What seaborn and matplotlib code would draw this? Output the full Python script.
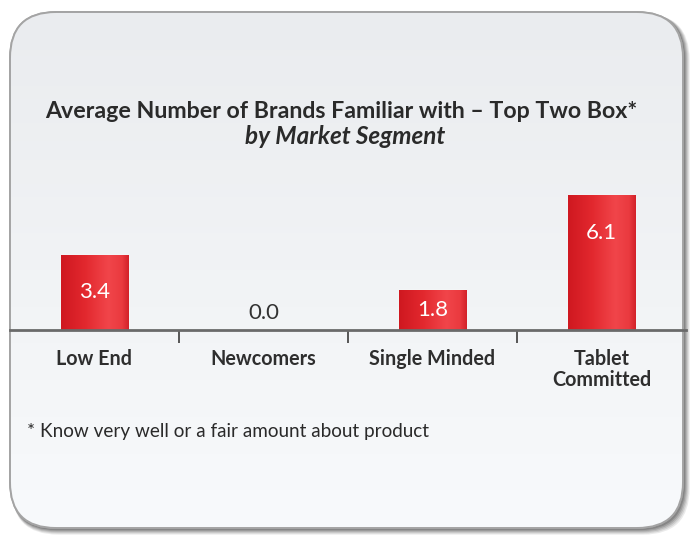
import numpy as np
import pandas as pd
import matplotlib
matplotlib.use("Agg")
import matplotlib.pyplot as plt
from matplotlib.patches import FancyBboxPatch
from matplotlib.colors import LinearSegmentedColormap
import seaborn as sns

# Data
segments = ["Low End", "Newcomers", "Single Minded", "Tablet\nCommitted"]
avg_brands = [3.4, 0.0, 1.8, 6.1]

title_line = "Average Number of Brands Familiar with \u2013 Top Two Box*"
subtitle_line = "by Market Segment"
footnote = "* Know very well or a fair amount about product"

sns.set_theme(style="white")
plt.rcParams["font.family"] = ["Lato", "DejaVu Sans"]

W, H = 690, 539
fig = plt.figure(figsize=(W / 100, H / 100), dpi=100)
fig.patch.set_facecolor("white")

# Background panel in pixel coordinates
bg = fig.add_axes([0, 0, 1, 1])
bg.set_xlim(0, W)
bg.set_ylim(H, 0)
bg.axis("off")

bx0, by0, bx1, by1 = 10, 12, 683, 528
rad = 46

# soft shadow on the right/bottom edge
for i, a in enumerate([0.10, 0.13, 0.16, 0.20, 0.25]):
    off = 6 - i
    sh = FancyBboxPatch((bx0 + off * 0.3, by0 + off * 0.3), bx1 - bx0 + off * 0.8, by1 - by0 + off * 0.8,
                        boxstyle=f"round,pad=0,rounding_size={rad}",
                        facecolor="#3a3a3a", edgecolor="none", alpha=a, zorder=1)
    bg.add_patch(sh)

face = FancyBboxPatch((bx0, by0), bx1 - bx0, by1 - by0,
                      boxstyle=f"round,pad=0,rounding_size={rad}",
                      facecolor="#f0f2f4", edgecolor="#a8a8a8", linewidth=1.2, zorder=2)
bg.add_patch(face)

grad_cmap = LinearSegmentedColormap.from_list("panel", ["#eaecef", "#f1f3f5", "#f8fafc"])
gv = np.linspace(0, 1, 256).reshape(-1, 1)
im = bg.imshow(gv, cmap=grad_cmap, extent=[bx0, bx1, by1, by0], aspect="auto", zorder=3)
im.set_clip_path(face)
edge = FancyBboxPatch((bx0, by0), bx1 - bx0, by1 - by0,
                      boxstyle=f"round,pad=0,rounding_size={rad}",
                      facecolor="none", edgecolor="#a4a4a4", linewidth=1.4, zorder=4)
bg.add_patch(edge)

# Titles and footnote
text_color = "#2a2a2a"
bg.text(341, 111, title_line, ha="center", va="center", fontsize=16.7,
        fontweight="bold", color=text_color, zorder=5)
bg.text(345, 137, subtitle_line, ha="center", va="center", fontsize=17.5,
        fontweight="bold", fontstyle="italic", color=text_color, zorder=5)
bg.text(27, 432, footnote, ha="left", va="center", fontsize=13.6,
        color=text_color, zorder=5)

# Chart axes: baseline at y=330 px, 22.1 px per unit
ax_left, ax_right = 10, 686
base_y = 330
ppu = 22.1
ymax = 6.8
ax = fig.add_axes([ax_left / W, (H - base_y) / H, (ax_right - ax_left) / W, ymax * ppu / H])
ax.patch.set_alpha(0)

df = pd.DataFrame({"segment": segments, "value": avg_brands})
sns.barplot(data=df, x="segment", y="value", color="#e0252b", width=0.4,
            saturation=1, ax=ax, zorder=2)

ax.set_xlim(-0.5, 3.5)
ax.set_ylim(0, ymax)

# horizontal sheen on each bar
bar_cmap = LinearSegmentedColormap.from_list(
    "bar", [(0.0, "#cf1820"), (0.35, "#e2282e"), (0.7, "#f1454a"), (0.9, "#ea3a3f"), (1.0, "#d3222a")])
hg = np.linspace(0, 1, 128).reshape(1, -1)
for p in ax.patches:
    h = p.get_height()
    if h <= 0:
        continue
    x0 = p.get_x()
    w = p.get_width()
    bim = ax.imshow(hg, cmap=bar_cmap, extent=[x0, x0 + w, 0, h], aspect="auto", zorder=3)
    bim.set_clip_path(p)
ax.set_xlim(-0.5, 3.5)
ax.set_ylim(0, ymax)

# value labels
for i, v in enumerate(avg_brands):
    if v > 0:
        ty = max(v - 1.72, v * 0.5)
        ax.text(i, ty, f"{v:.1f}", ha="center", va="center", fontsize=16,
                color="white", zorder=5)
    else:
        ax.text(i, 0.78, f"{v:.1f}", ha="center", va="center", fontsize=16,
                color="#333333", zorder=5)

for s in ["top", "right", "left"]:
    ax.spines[s].set_visible(False)
ax.spines["bottom"].set_color("#6a6a6a")
ax.spines["bottom"].set_linewidth(2.0)
ax.spines["bottom"].set_zorder(6)
ax.set_yticks([])
ax.set_xlabel("")
ax.set_ylabel("")
ax.set_xticks(range(len(segments)))
ax.set_xticklabels(segments, fontsize=14.2, fontweight="bold", color="#2e2e2e", linespacing=1.05)
ax.set_xticks([0.5, 1.5, 2.5], minor=True)
ax.tick_params(axis="x", which="major", length=0, pad=14)
ax.tick_params(axis="x", which="minor", length=9, width=1.4, color="#555555", direction="out", bottom=True)
for lbl in ax.get_xticklabels():
    lbl.set_verticalalignment("top")

fig.savefig("out.png", dpi=100)
